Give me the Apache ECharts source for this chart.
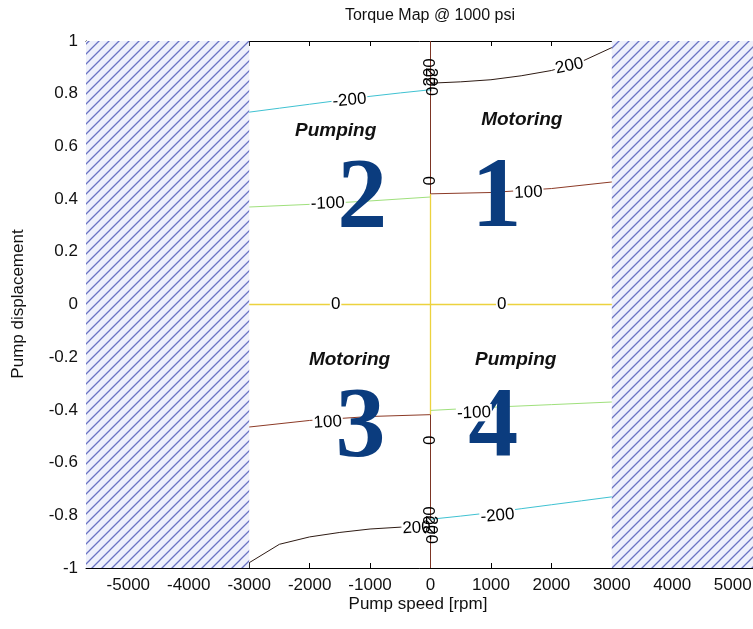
<!DOCTYPE html>
<html>
<head>
<meta charset="utf-8">
<title>Torque Map @ 1000 psi</title>
<script src="https://cdn.jsdelivr.net/npm/echarts@6/dist/echarts.min.js"></script>
<style>
  html, body { margin: 0; padding: 0; background: #fff; }
  #chart { width: 753px; height: 629px; }
</style>
</head>
<body>
<div id="chart"></div>
<script>
// Axis ranges and tick labels
const xRange = [-5700, 5700];
const yRange = [-1, 1];
const xTicks = [-5000, -4000, -3000, -2000, -1000, 0, 1000, 2000, 3000, 4000, 5000];
const yTicks = [-1, -0.8, -0.6, -0.4, -0.2, 0, 0.2, 0.4, 0.6, 0.8, 1];

// Speed limits outside which the pump cannot run (hatched)
const hatchBands = [[-5700, -3000], [3000, 5700]];

// Torque contours: [speed rpm, displacement]
const c200Motor = [[0, 0.84], [500, 0.845], [1000, 0.853], [1500, 0.868], [2000, 0.888], [2500, 0.922], [3000, 0.975]];
const c200Motor3 = [[-3000, -0.98], [-2500, -0.91], [-2000, -0.882], [-1500, -0.865], [-1000, -0.852], [-500, -0.845], [0, -0.84]];
const cN200Pump2 = [[-3000, 0.73], [-2500, 0.745], [-2000, 0.76], [-1500, 0.775], [-1000, 0.79], [-500, 0.803], [0, 0.815]];
const cN200Pump4 = [[0, -0.815], [500, -0.803], [1000, -0.79], [1500, -0.775], [2000, -0.76], [2500, -0.745], [3000, -0.73]];
const c100Motor1 = [[0, 0.42], [1000, 0.425], [2000, 0.44], [3000, 0.465]];
const c100Motor3 = [[-3000, -0.465], [-2000, -0.44], [-1000, -0.425], [0, -0.418]];
const cN100Pump2 = [[-3000, 0.37], [-2000, 0.38], [-1000, 0.393], [0, 0.408]];
const cN100Pump4 = [[0, -0.402], [1000, -0.39], [2000, -0.38], [3000, -0.37]];
const c0Horiz = [[-3000, 0], [3000, 0]];
const c0Vert = [[0, -0.418], [0, 0.42]];
const cVertUpper = [[0, 0.42], [0, 1]];
const cVertLower = [[0, -1], [0, -0.418]];

// Contour labels: [speed, displacement, text, rotation]
const contourLabels = [
  [2300, 0.905, '200', 12],
  [-1340, 0.775, '-200', 5],
  [-1700, 0.383, '-100', 2],
  [1620, 0.425, '100', 3],
  [-1570, 0, '0', 0],
  [1180, 0, '0', 0],
  [-1700, -0.447, '100', 3],
  [720, -0.412, '-100', 2],
  [1110, -0.802, '-200', 5],
  [-230, -0.848, '200', 3],
  [0, 0.47, '0', 90],
  [0, -0.515, '0', 90],
  [0, 0.87, '-200', 90],
  [0, 0.845, '200', -90],
  [0, -0.83, '-200', 90],
  [0, -0.855, '200', -90]
];

// Operating-mode annotations: [speed, displacement, text]
const modeLabels = [
  [-1570, 0.66, 'Pumping'],
  [1510, 0.70, 'Motoring'],
  [-1340, -0.21, 'Motoring'],
  [1410, -0.21, 'Pumping']
];

// Quadrant numbers: [speed, displacement, text]
const quadrantLabels = [
  [1090, 0.395, '1'],
  [-1130, 0.395, '2'],
  [-1160, -0.475, '3'],
  [1040, -0.475, '4']
];

const FONT = "'Liberation Sans', Arial, sans-serif";

function hatchPattern() {
  const c = document.createElement('canvas');
  c.width = 10; c.height = 10;
  const g = c.getContext('2d');
  g.fillStyle = '#eef0fb';
  g.fillRect(0, 0, 10, 10);
  g.strokeStyle = '#6a73c3';
  g.lineWidth = 1.3;
  g.beginPath();
  g.moveTo(-2, 12); g.lineTo(12, -2);
  g.moveTo(-2, 2); g.lineTo(2, -2);
  g.moveTo(8, 12); g.lineTo(12, 8);
  g.stroke();
  return c;
}

function contour(data, color, width) {
  return {
    type: 'line', data: data, showSymbol: false, symbol: 'none',
    lineStyle: { color: color, width: width || 1 }, z: 3, silent: true
  };
}

function textSeries(items, z, labelFor) {
  return {
    type: 'scatter', symbolSize: 0, z: z, silent: true,
    itemStyle: { opacity: 1 },
    data: items.map(d => ({ value: [d[0], d[1]], label: labelFor(d) }))
  };
}

const chart = echarts.init(document.getElementById('chart'), null, { renderer: 'canvas' });

const option = {
  animation: false,
  backgroundColor: '#ffffff',
  grid: { left: 86, top: 41, right: -22, bottom: 61, outerBoundsMode: 'none' },
  xAxis: [{
    type: 'value', min: xRange[0], max: xRange[1],
    axisLine: { show: true, onZero: false, lineStyle: { color: '#000', width: 1 } },
    axisTick: { show: true, inside: true, length: 5, customValues: xTicks, lineStyle: { color: '#000' } },
    axisLabel: { customValues: xTicks, color: '#111', fontFamily: FONT, fontSize: 17, margin: 9,
      formatter: v => String(v) },
    splitLine: { show: false }
  }, {
    type: 'value', position: 'top', min: xRange[0], max: xRange[1],
    axisLine: { show: true, onZero: false, lineStyle: { color: '#000', width: 1 } },
    axisTick: { show: true, inside: true, length: 5, customValues: xTicks, lineStyle: { color: '#000' } },
    axisLabel: { show: false },
    splitLine: { show: false }
  }],
  yAxis: {
    type: 'value', min: yRange[0], max: yRange[1],
    axisLine: { show: true, onZero: false, lineStyle: { color: '#000', width: 1 } },
    axisTick: { show: true, inside: true, length: 5, customValues: yTicks, lineStyle: { color: '#000' } },
    axisLabel: { customValues: yTicks, color: '#111', fontFamily: FONT, fontSize: 17, margin: 8,
      formatter: v => String(Math.round(v * 10) / 10) },
    splitLine: { show: false }
  },
  graphic: [
    { type: 'text', x: 430, y: 8, style: { text: 'Torque Map @ 1000 psi', font: '16px ' + FONT, fill: '#111', textAlign: 'center', textVerticalAlign: 'top' } },
    { type: 'text', x: 418, y: 596, style: { text: 'Pump speed [rpm]', font: '17px ' + FONT, fill: '#111', textAlign: 'center', textVerticalAlign: 'top' } },
    { type: 'text', x: 10, y: 304, rotation: Math.PI / 2, style: { text: 'Pump displacement', font: '17px ' + FONT, fill: '#111', textAlign: 'center', textVerticalAlign: 'top' } }
  ],
  series: [
    {
      type: 'line', data: [], z: 1, silent: true,
      markArea: {
        silent: true,
        itemStyle: { color: { image: hatchPattern(), repeat: 'repeat' }, borderWidth: 0, opacity: 1 },
        data: hatchBands.map(b => [{ xAxis: b[0], yAxis: yRange[0] }, { xAxis: b[1], yAxis: yRange[1] }])
      }
    },
    contour(c200Motor, '#2e1b14'),
    contour(c200Motor3, '#2e1b14'),
    contour(cN200Pump2, '#3fc2d2'),
    contour(cN200Pump4, '#3fc2d2'),
    contour(c100Motor1, '#8c3a26'),
    contour(c100Motor3, '#8c3a26'),
    contour(cN100Pump2, '#9fe07c'),
    contour(cN100Pump4, '#9fe07c'),
    contour(c0Horiz, '#ecd23e', 1.3),
    contour(c0Vert, '#ecd23e', 1.3),
    contour(cVertUpper, '#7c3524'),
    contour(cVertLower, '#7c3524'),
    textSeries(contourLabels, 5, d => ({
      show: true, position: 'inside', formatter: d[2], rotate: d[3], opacity: 1,
      color: '#000', fontFamily: FONT, fontSize: 17,
      backgroundColor: d[3] === 90 || d[3] === -90 ? 'transparent' : '#fff', padding: [0, 1]
    })),
    textSeries(modeLabels, 6, d => ({
      show: true, position: 'inside', formatter: d[2], opacity: 1,
      color: '#111', fontFamily: FONT, fontSize: 19, fontWeight: 'bold', fontStyle: 'italic'
    })),
    textSeries(quadrantLabels, 4, d => ({
      show: true, position: 'inside', formatter: d[2], opacity: 1,
      color: '#0b3c7e', fontFamily: "'Liberation Serif', 'Times New Roman', serif", fontSize: 100, fontWeight: 'bold'
    }))
  ]
};

chart.setOption(option);
</script>
</body>
</html>
